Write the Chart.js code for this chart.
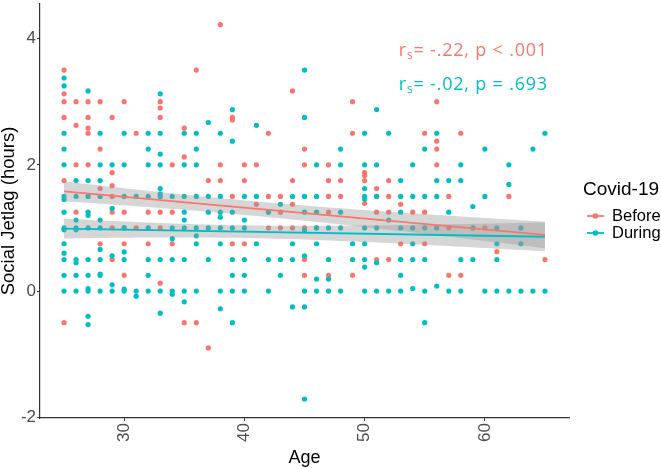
<!DOCTYPE html>
<html><head><meta charset="utf-8">
<script src="https://cdn.jsdelivr.net/npm/chart.js@4.4.1/dist/chart.umd.min.js"></script>
<style>html,body{margin:0;padding:0;background:#fff;overflow:hidden}</style>
</head><body>
<canvas id="c" width="661" height="469"></canvas>
<script>
// ---------- DATA ----------
const seriesNames = ['Before', 'During'];
const seriesColors = ['#F8766D', '#00BFC4'];
const legendTitle = 'Covid-19';
const xTitle = 'Age';
const yTitle = 'Social Jetlag (hours)';
const xTicks = [30, 40, 50, 60];
const yTicks = [-2, 0, 2, 4];
const statTexts = ['= -.22, p < .001', '= -.02, p = .693'];

// Before (red): ages and the social-jetlag values seen at each age
const beforeAge = [25,26,27,28,29,30,31,32,33,34,35,36,37,38,39,40,41,42,43,44,45,46,47,48,49,50,51,52,53,54,55,56,57,58,60,61,62,65];
const beforeJetlag = [
  [3.5,3.125,3.0,2.75,1.75,-0.5],
  [3.0,2.625,2.0,1.25],
  [3.0,2.75,2.58,2.5,2.0],
  [3.0,2.25,1.625,0.75],
  [2.75,1.875,1.67,1.5,1.25,1.0,0.5],
  [3.0,1.25,1.0,0.75,0.25],
  [2.5,1.0],
  [1.25,1.0,0.75],
  [3.0,2.9,2.75,1.25,1.0,0.125],
  [2.0,1.25,0.75],
  [2.58,2.125,-0.5],
  [3.5,-0.5],
  [1.75,-0.9],
  [4.22,2.0,1.75],
  [2.75,2.71,1.5,0.75],
  [2.0,1.75,0.75],
  [2.0,1.375],
  [2.5,1.5,1.0],
  [1.5,1.25,1.0],
  [3.17,1.75,1.375,1.0],
  [2.25,2.0,1.0,0.5,0.25],
  [1.0],
  [2.0,1.75,1.5,1.25,0.25],
  [1.75,1.5],
  [3.0,2.5,0.25],
  [1.875,1.83,1.75,1.39],
  [1.625,1.5,1.25,0.5],
  [1.75,1.5,1.25,0.5],
  [1.375,0.75],
  [1.25],
  [2.5,1.25,0.75],
  [3.0,2.375,2.25,2.0],
  [1.5,1.0,0.25],
  [2.5,0.25],
  [1.0],
  [0.625],
  [1.5],
  [0.5]
];

// During (teal)
const duringAge = [25,26,27,28,29,30,31,32,33,34,35,36,37,38,39,40,41,42,43,44,45,46,47,48,49,50,51,52,53,54,55,56,57,58,59,60,61,62,63,64,65];
const duringJetlag = [
  [3.375,3.25,2.5,2.25,2.0,1.5,1.45,1.25,1.0,0.97,0.75,0.6,0.5,0.25,0],
  [1.75,1.5,1.125,1.0,0.97,0.5,0.45,0.25,0],
  [3.17,1.75,1.5,1.25,1.2,1.0,0.5,0.25,0.04,0,-0.4,-0.53],
  [2.5,2.0,1.75,1.5,1.125,1.0,0.66,0.5,0.27,0.25,0],
  [2.0,1.31,0.56,0.1,0],
  [2.5,2.0,1.5,1.0,0.62,0.5,0.03,0],
  [1.5,0,-0.08],
  [2.5,2.25,2.0,1.5,1.0,0.5,0.25,0],
  [3.125,2.5,2.17,2.0,1.625,1.54,1.5,0.5,0,-0.35],
  [1.5,1.0,0.83,0.5,0,-0.05],
  [2.5,2.0,1.5,1.25,1.125,1.0,0.5,0,-0.17],
  [2.5,2.25,2.0,1.5,1.0,0.875,0.75,0],
  [2.67,1.5,1.25,1.0,0.5],
  [2.5,1.5,1.25,1.17,1.0,0.75,0,-0.28],
  [2.875,2.375,1.25,1.0,0.5,0.25,0,-0.5],
  [1.5,1.125,1.0,0.5,0.25,0],
  [2.625,1.5,0.75],
  [1.25,0.5,0],
  [1.375,0.5,0.25],
  [1.5,0.75,0.5,-0.25],
  [3.5,2.75,1.5,1.25,0.96,0.56,0,-0.25,-1.71],
  [2.0,1.5,1.25,1.0,0.75,0.19,0],
  [1.0,0.5,0.19,0],
  [2.25,2.0,1.25,1.0,0],
  [0.75,0.5],
  [2.5,2.0,1.625,1.5,1.46,1.0,0.75,0.5,0.38,0],
  [2.875,2.0,1.5,1.0,0.45,0],
  [2.5,1.125,0],
  [1.75,1.5,1.25,1.0,0.5,0.25,0],
  [2.0,1.5,1.0,0.75,0.5,0.04],
  [2.25,1.5,1.0,0.5,0,-0.5],
  [2.5,1.75,1.5,1.0,0.08],
  [1.75,1.25,0],
  [2.0,1.75,0.5,0],
  [1.34,1.0,0.5],
  [2.25,1.5,0],
  [1.0,0.75,0.5,0],
  [2.0,1.69,0],
  [1.0,0.75,0],
  [2.25,0],
  [2.5,0]
];

// Fitted linear trends (value at the first and last age)
const fitAges = [25, 65];
const beforeFit = [1.58, 0.89];
const duringFit = [0.99, 0.86];
// 95% band half-widths: [at age 25, narrowest, at age 65]
const beforeBand = [0.157, 0.115, 0.21];
const duringBand = [0.157, 0.10, 0.23];

// ---------- helpers ----------
function toPoints(ages, vals) {
  const pts = [];
  ages.forEach((a, i) => vals[i].forEach(v => pts.push({x: a, y: v})));
  return pts;
}
// straight fitted line with the usual hyperbolic confidence band
function trend(fit, band) {
  const [x0, x1] = fitAges;
  const [h0, hm, h1] = band;
  const r = Math.sqrt((h0 * h0 - hm * hm) / (h1 * h1 - hm * hm));
  const xc = (x0 + x1 * r) / (1 + r);
  const k = (h0 * h0 - hm * hm) / ((xc - x0) ** 2);
  const line = [], upper = [], lower = [];
  const steps = 80;
  for (let i = 0; i <= steps; i++) {
    const x = x0 + (x1 - x0) * i / steps;
    const y = fit[0] + (fit[1] - fit[0]) * (x - x0) / (x1 - x0);
    const h = Math.sqrt(hm * hm + k * (x - xc) ** 2);
    if (i === 0 || i === steps) line.push({x, y});
    upper.push({x, y: y + h});
    lower.push({x, y: y - h});
  }
  return {line, upper, lower};
}

const beforePts = toPoints(beforeAge, beforeJetlag);
const duringPts = toPoints(duringAge, duringJetlag);
const fitB = trend(beforeFit, beforeBand);
const fitD = trend(duringFit, duringBand);
const bandFill = 'rgba(153,153,153,0.4)';
const FONT = "'Liberation Sans', Arial, sans-serif";

// ---------- plugins ----------
const overlay = {
  id: 'overlay',
  afterDraw(chart) {
    const ctx = chart.ctx;
    const xs = chart.scales.x, ys = chart.scales.y;
    // correlation annotations
    const annY = [3.8, 3.26];
    const rightX = xs.getPixelForValue(65.25);
    statTexts.forEach((txt, i) => {
      const y = ys.getPixelForValue(annY[i]);
      ctx.save();
      ctx.fillStyle = seriesColors[i];
      ctx.textBaseline = 'middle';
      ctx.textAlign = 'left';
      if ('letterSpacing' in ctx) ctx.letterSpacing = '0.8px';
      const big = "18px 'Open Sans', sans-serif";
      const small = "12px 'Open Sans', sans-serif";
      ctx.font = big; const wR = ctx.measureText('r').width; const wT = ctx.measureText(txt).width;
      ctx.font = small; const wS = ctx.measureText('s').width;
      let x = rightX - (wR + wS + wT);
      ctx.font = big; ctx.fillText('r', x, y); x += wR;
      ctx.font = small; ctx.fillText('s', x, y + 4); x += wS;
      ctx.font = big; ctx.fillText(txt, x, y);
      ctx.restore();
    });
    // legend
    ctx.save();
    ctx.fillStyle = '#000';
    ctx.textBaseline = 'middle';
    ctx.textAlign = 'left';
    ctx.font = '19px ' + FONT;
    ctx.fillText(legendTitle, 583, 190);
    ctx.font = '16.5px ' + FONT;
    seriesNames.forEach((nm, i) => {
      const y = 216 + i * 17;
      ctx.strokeStyle = seriesColors[i];
      ctx.lineWidth = 1.8;
      ctx.beginPath(); ctx.moveTo(587, y); ctx.lineTo(604, y); ctx.stroke();
      ctx.fillStyle = seriesColors[i];
      ctx.beginPath(); ctx.arc(595.5, y, 2.8, 0, Math.PI * 2); ctx.fill();
      ctx.fillStyle = '#000';
      ctx.fillText(nm, 612, y);
    });
    ctx.restore();
  }
};

new Chart(document.getElementById('c'), {
  type: 'scatter',
  data: {
    datasets: [
      {type: 'line', data: fitB.line, borderColor: seriesColors[0], borderWidth: 1.9, pointRadius: 0, fill: false, order: 1},
      {type: 'line', data: fitD.line, borderColor: seriesColors[1], borderWidth: 1.9, pointRadius: 0, fill: false, order: 1},
      {type: 'line', data: fitB.upper, borderWidth: 0, pointRadius: 0, backgroundColor: bandFill, fill: '+1', order: 2},
      {type: 'line', data: fitB.lower, borderWidth: 0, pointRadius: 0, fill: false, order: 2},
      {type: 'line', data: fitD.upper, borderWidth: 0, pointRadius: 0, backgroundColor: bandFill, fill: '+1', order: 3},
      {type: 'line', data: fitD.lower, borderWidth: 0, pointRadius: 0, fill: false, order: 3},
      {label: seriesNames[1], data: duringPts, backgroundColor: seriesColors[1], borderWidth: 0, pointRadius: 2.6, order: 4},
      {label: seriesNames[0], data: beforePts, backgroundColor: seriesColors[0], borderWidth: 0, pointRadius: 2.6, order: 5}
    ]
  },
  options: {
    responsive: false,
    animation: false,
    devicePixelRatio: 1,
    layout: {padding: {left: 0, right: 92, top: 0, bottom: 0}},
    plugins: {legend: {display: false}, tooltip: {enabled: false}},
    scales: {
      x: {
        type: 'linear', min: 23, max: 67,
        afterBuildTicks: s => { s.ticks = xTicks.map(v => ({value: v})); },
        afterFit: s => { s.height = 51; s.paddingLeft = 0; s.paddingRight = 0; },
        ticks: {minRotation: 90, maxRotation: 90, autoSkip: false, color: '#4d4d4d', padding: 2, font: {family: FONT, size: 17}},
        grid: {drawOnChartArea: false, drawTicks: true, tickLength: 3, color: '#333'},
        border: {display: true, color: '#333', width: 1.2},
        title: {display: true, text: xTitle, color: '#000', font: {family: FONT, size: 18}, padding: {top: 0, bottom: 0}}
      },
      y: {
        min: -2.01, max: 4.547,
        afterBuildTicks: s => { s.ticks = yTicks.map(v => ({value: v})); },
        afterFit: s => { s.width = 40; s.paddingTop = 0; s.paddingBottom = 0; },
        ticks: {color: '#4d4d4d', padding: 1, font: {family: FONT, size: 17}},
        grid: {drawOnChartArea: false, drawTicks: true, tickLength: 3, color: '#333'},
        border: {display: true, color: '#333', width: 1.2},
        title: {display: true, text: yTitle, color: '#000', font: {family: FONT, size: 18.5, lineHeight: 1}, padding: {top: 0, bottom: 0}}
      }
    }
  },
  plugins: [overlay]
});
</script>
</body></html>
